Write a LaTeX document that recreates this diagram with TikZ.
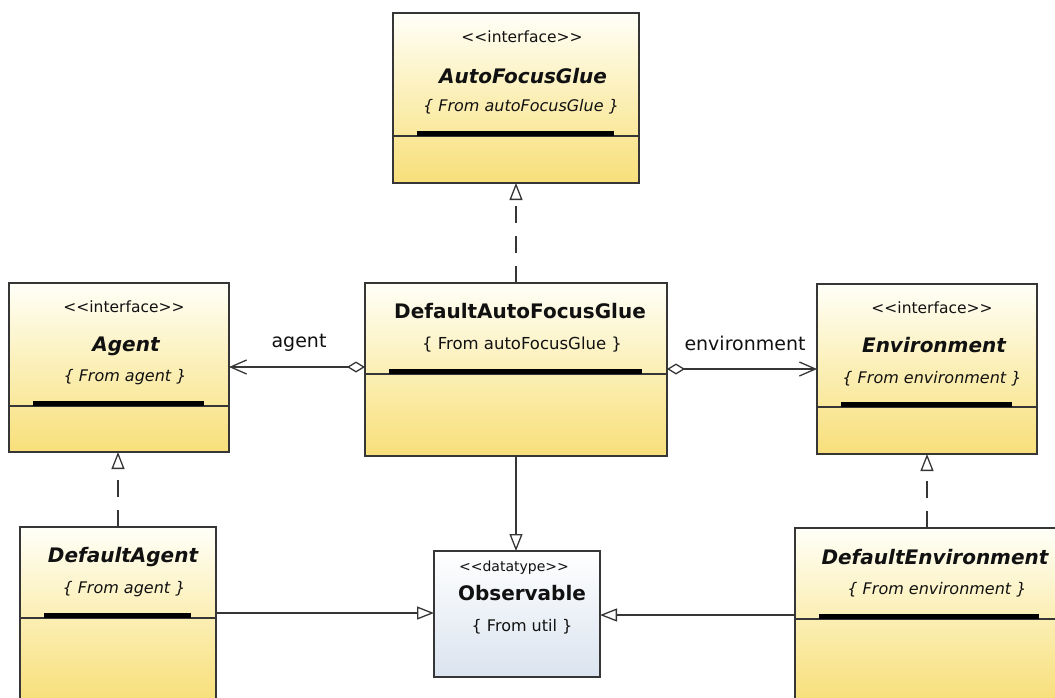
\documentclass[tikz,border=0pt]{standalone}
\usepackage{fontspec}
\setmainfont{DejaVu Sans}
\usetikzlibrary{arrows.meta,calc}

\definecolor{ytop}{HTML}{FFFFF8}
\definecolor{ymid}{HTML}{FBEFB6}
\definecolor{ybot}{HTML}{F8DF7A}
\definecolor{btop}{HTML}{FFFFFF}
\definecolor{bbot}{HTML}{DAE3EF}
\definecolor{edge}{HTML}{363636}
\definecolor{ink}{HTML}{111111}

\tikzset{
  classbox/.style={draw=edge, line width=1.4pt, inner sep=0pt, outer sep=0pt,
    top color=ytop, bottom color=ybot, middle color=ymid},
  databox/.style={draw=edge, line width=1.4pt, inner sep=0pt, outer sep=0pt,
    top color=btop, bottom color=bbot},
  txt/.style={inner sep=0pt, anchor=base, text=ink},
  stereo/.style={txt, font=\fontsize{15.5}{18}\selectfont},
  cname/.style={txt, font=\fontsize{20}{24}\selectfont\bfseries},
  iname/.style={txt, font=\fontsize{20}{24}\selectfont\bfseries\itshape},
  origin/.style={txt, font=\fontsize{16.5}{19}\selectfont},
  iorigin/.style={txt, font=\fontsize{16}{19}\selectfont\itshape},
  rolelabel/.style={txt, font=\fontsize{19}{22}\selectfont},
  link/.style={draw=edge, line width=1.3pt},
  realize/.style={link, dash pattern=on 17pt off 13pt,
    -{Triangle[open, length=17pt, width=13pt]}},
  general/.style={link, -{Triangle[open, length=17pt, width=13pt]}},
  assoc/.style={link,
    {Diamond[open, length=18pt, width=11pt]}-{Straight Barb[length=16pt, width=14pt]}},
}

% separator between name and attribute compartments
\newcommand{\compline}[2]{%
  \draw[edge, line width=2.6pt] ($(#1.north west)+(0,#2)$) -- ($(#1.north east)+(0,#2)$);
  \fill[black] ($(#1.north west)+(24,#2)$) rectangle ($(#1.north east)+(-25,#2-5)$);
}
\newcommand{\lt}{<\kern0pt<}
\newcommand{\gt}{>\kern0pt>}

\begin{document}
\begin{tikzpicture}[x=1pt, y=-1pt]
\path[use as bounding box] (0,0) rectangle (1055,697);
\clip (0,0) rectangle (1055,697);

% class boxes
\node[classbox, minimum width=246pt, minimum height=170pt] (afg)   at (516,98)    {};
\node[classbox, minimum width=220pt, minimum height=169pt] (agent) at (119,367.5) {};
\node[classbox, minimum width=302pt, minimum height=173pt] (dafg)  at (516,369.5) {};
\node[classbox, minimum width=220pt, minimum height=170pt] (env)   at (927,369)   {};
\node[classbox, minimum width=196pt, minimum height=174pt] (da)    at (118,614)   {};
\node[databox,  minimum width=166pt, minimum height=126pt] (obs)   at (517,614)   {};
\node[classbox, minimum width=269pt, minimum height=174pt] (de)    at (929.5,615) {};

\compline{afg}{123}
\compline{agent}{123}
\compline{dafg}{91}
\compline{env}{123}
\compline{da}{91}
\compline{de}{91}

% texts
\node[stereo]  (afgS) at (522,42)  {\lt interface\gt};
\node[iname]   (afgN) at (523,83)  {AutoFocusGlue};
\node[iorigin] (afgO) at (521,111) {\{ From autoFocusGlue \}};

\node[stereo]  (agS) at (124,312) {\lt interface\gt};
\node[iname]   (agN) at (126,351) {Agent};
\node[iorigin] (agO) at (125,381) {\{ From agent \}};

\node[cname]   (dafgN) at (520,318) {DefaultAutoFocusGlue};
\node[origin]  (dafgO) at (522,349) {\{ From autoFocusGlue \}};

\node[stereo]  (envS) at (932,313) {\lt interface\gt};
\node[iname]   (envN) at (934,352) {Environment};
\node[iorigin] (envO) at (932,383) {\{ From environment \}};

\node[iname]   (daN) at (123,562) {DefaultAgent};
\node[iorigin] (daO) at (124,593) {\{ From agent \}};

\node[stereo, font=\fontsize{14}{16}\selectfont] (obsS) at (514,571) {\lt datatype\gt};
\node[cname]   (obsN) at (522,600) {Observable};
\node[origin, font=\fontsize{16}{19}\selectfont] (obsO) at (522,631) {\{ From util \}};

\node[iname]   (deN) at (935,564) {DefaultEnvironment};
\node[iorigin] (deO) at (937,594) {\{ From environment \}};

% connectors
\draw[realize] (dafg.north) -- (afg.south);
\draw[realize] (da.north) -- (da.north |- agent.south);
\draw[realize] (env.south |- de.north) -- (env.south);
\draw[general] (dafg.south) -- (dafg.south |- obs.north);

\coordinate (agLink) at ($(dafg.north west)+(0,84)$);
\draw[assoc] (agLink) -- (agLink -| agent.east);
\coordinate (envLink) at ($(dafg.north east)+(0,86)$);
\draw[assoc] (envLink) -- (envLink -| env.west);

\coordinate (daLink) at ($(da.north east)+(0,86)$);
\draw[general] (daLink) -- (daLink -| obs.west);
\coordinate (deLink) at ($(de.north west)+(0,87)$);
\draw[general] (deLink) -- (deLink -| obs.east);

\node[rolelabel] (agRole)  at (299,347) {agent};
\node[rolelabel] (envRole) at (745,350) {environment};
\end{tikzpicture}
\end{document}
